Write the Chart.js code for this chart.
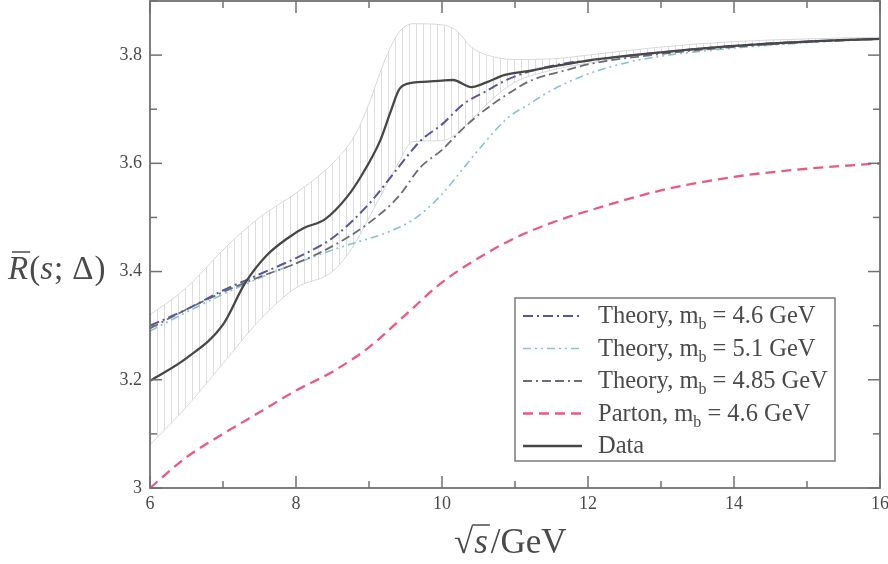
<!DOCTYPE html>
<html><head><meta charset="utf-8">
<script src="https://cdn.jsdelivr.net/npm/chart.js@4/dist/chart.umd.min.js"></script>
<style>html,body{margin:0;padding:0;background:#fff;}</style>
</head><body>
<canvas id="c" width="888" height="564"></canvas>
<script>
// ---- data ----
const dataX   = [6, 6.5, 7, 7.3, 7.6, 7.9, 8.1, 8.4, 8.7, 8.9, 9.15, 9.3, 9.42, 9.6, 9.8, 10, 10.15, 10.4, 10.6, 10.85, 11.2, 11.6, 12, 13, 14, 15, 16];
const dataY   = [3.198, 3.24, 3.302, 3.378, 3.43, 3.463, 3.48, 3.497, 3.538, 3.578, 3.641, 3.697, 3.738, 3.749, 3.751, 3.753, 3.754, 3.741, 3.749, 3.763, 3.771, 3.781, 3.79, 3.805, 3.817, 3.825, 3.83];

const th46X   = [6, 6.5, 7, 7.5, 8, 8.5, 9, 9.4, 9.7, 10, 10.3, 10.6, 10.9, 11.2, 11.7, 12, 13, 14, 15, 16];
const th46Y   = [3.30, 3.33, 3.365, 3.395, 3.425, 3.462, 3.525, 3.592, 3.641, 3.672, 3.71, 3.733, 3.755, 3.77, 3.785, 3.79, 3.805, 3.817, 3.825, 3.83];

const th51X   = [6, 6.5, 7, 7.5, 8, 8.5, 8.9, 9.25, 9.65, 10, 10.3, 10.6, 10.9, 11.2, 11.5, 12, 12.5, 13, 14, 15, 16];
const th51Y   = [3.29, 3.325, 3.358, 3.388, 3.415, 3.44, 3.457, 3.472, 3.50, 3.543, 3.592, 3.641, 3.684, 3.71, 3.735, 3.765, 3.785, 3.798, 3.813, 3.823, 3.83];

const th485X  = [6, 6.5, 7, 7.5, 8, 8.5, 9, 9.4, 9.7, 10, 10.3, 10.6, 10.9, 11.2, 11.7, 12, 13, 14, 15, 16];
const th485Y  = [3.295, 3.33, 3.362, 3.39, 3.415, 3.447, 3.49, 3.538, 3.592, 3.625, 3.666, 3.70, 3.728, 3.752, 3.772, 3.783, 3.802, 3.815, 3.824, 3.83];

const partonX = [6, 6.5, 7, 7.5, 8, 8.5, 9, 9.5, 10, 10.5, 11, 11.5, 12, 13, 14, 15, 16];
const partonY = [3.0, 3.057, 3.10, 3.14, 3.18, 3.215, 3.26, 3.32, 3.38, 3.425, 3.462, 3.49, 3.512, 3.55, 3.575, 3.59, 3.60];

const bandX   = [6, 6.5, 7, 7.5, 8, 8.5, 8.8, 9.0, 9.2, 9.4, 9.6, 10, 10.2, 10.4, 10.7, 11, 11.5, 12, 13, 14, 15, 16];
const bandHi  = [3.32, 3.37, 3.44, 3.50, 3.545, 3.60, 3.65, 3.71, 3.785, 3.84, 3.858, 3.856, 3.845, 3.815, 3.797, 3.792, 3.793, 3.80, 3.815, 3.825, 3.83, 3.833];
const bandLo  = [3.08, 3.15, 3.23, 3.31, 3.37, 3.40, 3.45, 3.50, 3.55, 3.60, 3.64, 3.642, 3.655, 3.68, 3.72, 3.75, 3.772, 3.785, 3.805, 3.817, 3.825, 3.83];

const xMajorTicks = [6, 8, 10, 12, 14, 16];
const xMinorTicks = [7, 9, 11, 13, 15];
const yMajorTicks = [3, 3.2, 3.4, 3.6, 3.8];
const yMinorTicks = [3.1, 3.3, 3.5, 3.7, 3.9];

const seriesNames = ['Theory, m_b = 4.6 GeV', 'Theory, m_b = 5.1 GeV', 'Theory, m_b = 4.85 GeV', 'Parton, m_b = 4.6 GeV', 'Data'];

// ---- helpers ----
const SERIF = '"Liberation Serif", "Times New Roman", serif';
const pts = (xs, ys) => xs.map((x, i) => ({x: x, y: ys[i]}));

function hatch() {
  const c = document.createElement('canvas');
  c.width = 7; c.height = 4;
  const g = c.getContext('2d');
  g.fillStyle = 'rgba(210,210,210,0.75)';
  g.fillRect(3, 0, 1, 4);
  return g.createPattern(c, 'repeat');
}

const common = {pointRadius: 0, fill: false, cubicInterpolationMode: 'monotone'};

const datasets = [
  Object.assign({label: seriesNames[4], data: pts(dataX, dataY), borderColor: '#474747', borderWidth: 2.3, order: 0}, common),
  Object.assign({label: seriesNames[0], data: pts(th46X, th46Y), borderColor: '#56569c', borderWidth: 2, borderDash: [10, 4, 2, 4], order: 1}, common),
  Object.assign({label: seriesNames[1], data: pts(th51X, th51Y), borderColor: '#86c3cb', borderWidth: 1.6, borderDash: [8, 4, 2, 4, 2, 4], order: 3}, common),
  Object.assign({label: seriesNames[2], data: pts(th485X, th485Y), borderColor: '#6c6c74', borderWidth: 1.8, borderDash: [9, 4, 2, 4, 9, 4], order: 2}, common),
  Object.assign({label: seriesNames[3], data: pts(partonX, partonY), borderColor: '#ea5a80', borderWidth: 2.3, borderDash: [10, 6], order: 4}, common),
  Object.assign({label: 'band-lo', data: pts(bandX, bandLo), borderColor: '#d8d8d8', borderWidth: 1, order: 9}, common),
  Object.assign({}, common, {label: 'band-hi', data: pts(bandX, bandHi), borderColor: '#d8d8d8', borderWidth: 1, order: 8, fill: 5, backgroundColor: hatch()})
];

// frame + inward ticks
const frameTicks = {
  id: 'frameTicks',
  afterDatasetsDraw(chart) {
    const {ctx, chartArea: a, scales: {x, y}} = chart;
    ctx.save();
    ctx.strokeStyle = '#707070';
    ctx.lineWidth = 1.8;
    ctx.strokeRect(a.left, a.top, a.right - a.left, a.bottom - a.top);
    ctx.lineWidth = 1.5;
    const seg = (x1, y1, x2, y2) => { ctx.beginPath(); ctx.moveTo(x1, y1); ctx.lineTo(x2, y2); ctx.stroke(); };
    const xt = (list, L) => list.forEach(v => { const p = x.getPixelForValue(v); seg(p, a.bottom, p, a.bottom - L); seg(p, a.top, p, a.top + L); });
    const yt = (list, L) => list.forEach(v => { const p = y.getPixelForValue(v); seg(a.left, p, a.left + L, p); seg(a.right, p, a.right - L, p); });
    xt(xMajorTicks, 12); xt(xMinorTicks, 7);
    yt(yMajorTicks, 12); yt(yMinorTicks, 7);
    ctx.restore();
  }
};

// legend and axis titles
const overlay = {
  id: 'overlay',
  afterDraw(chart) {
    const ctx = chart.ctx;
    ctx.save();
    // legend box
    const bx = 515, by = 298, bw = 320, bh = 163;
    ctx.fillStyle = '#fff';
    ctx.fillRect(bx, by, bw, bh);
    ctx.strokeStyle = '#7a7a7a';
    ctx.lineWidth = 1.5;
    ctx.strokeRect(bx, by, bw, bh);
    const order = [1, 2, 3, 4, 0];
    const LF = 24.5;
    order.forEach((di, row) => {
      const d = chart.data.datasets[di];
      const yy = 316 + row * 32.5;
      ctx.save();
      ctx.strokeStyle = d.borderColor;
      ctx.lineWidth = d.borderWidth;
      ctx.setLineDash(d.borderDash || []);
      ctx.beginPath(); ctx.moveTo(523, yy); ctx.lineTo(582, yy); ctx.stroke();
      ctx.restore();
      // text with subscript
      ctx.fillStyle = '#4a4a4a';
      ctx.textBaseline = 'alphabetic';
      const base = yy + 7;
      const parts = d.label.split('_b');
      let tx = 598;
      ctx.font = LF + 'px ' + SERIF;
      ctx.fillText(parts[0], tx, base);
      tx += ctx.measureText(parts[0]).width;
      if (parts.length > 1) {
        ctx.font = '16px ' + SERIF;
        ctx.fillText('b', tx, base + 6);
        tx += ctx.measureText('b').width;
        ctx.font = LF + 'px ' + SERIF;
        ctx.fillText(parts[1], tx, base);
      }
    });

    // y title: R̄(s; Δ)
    ctx.fillStyle = '#4a4a4a';
    ctx.strokeStyle = '#4a4a4a';
    let px = 8; const yb = 279;
    const FS = 33;
    const piece = (t, it) => {
      ctx.font = (it ? 'italic ' : '') + FS + 'px ' + SERIF;
      ctx.fillText(t, px, yb);
      const w = ctx.measureText(t).width;
      px += w;
      return w;
    };
    const rx = px;
    const rw = piece('R', true);
    ctx.lineWidth = 1.5;
    ctx.beginPath(); ctx.moveTo(rx + 4, yb - 27); ctx.lineTo(rx + rw + 2, yb - 27); ctx.stroke();
    px += 1;
    piece('(', false); piece('s', true); px += 1; piece(';', false); px += 9; piece('Δ', false); px += 1; piece(')', false);

    // x title: √s/GeV
    let qx = 454; const qb = 553;
    const FX = 35;
    ctx.font = FX + 'px ' + SERIF;
    ctx.fillText('√', qx, qb);
    const sw = ctx.measureText('√').width;
    qx += sw;
    ctx.font = 'italic ' + FX + 'px ' + SERIF;
    const ssw = ctx.measureText('s').width;
    ctx.lineWidth = 1.5;
    ctx.beginPath(); ctx.moveTo(qx - 1, qb - 28); ctx.lineTo(qx + ssw + 3, qb - 28); ctx.stroke();
    ctx.fillText('s', qx + 1, qb);
    qx += ssw + 4;
    ctx.font = FX + 'px ' + SERIF;
    ctx.fillText('/GeV', qx, qb);
    ctx.restore();
  }
};

new Chart(document.getElementById('c'), {
  type: 'line',
  data: {datasets: datasets},
  options: {
    responsive: false,
    animation: false,
    devicePixelRatio: 1,
    layout: {padding: {top: 1, right: 8, left: 0, bottom: 0}},
    plugins: {legend: {display: false}, tooltip: {enabled: false}},
    scales: {
      x: {
        type: 'linear', min: 6, max: 16,
        afterFit: s => { s.height = 76; s.paddingLeft = 0; s.paddingRight = 0; },
        afterBuildTicks: s => { s.ticks = xMajorTicks.map(v => ({value: v})); },
        grid: {display: false, drawTicks: false},
        border: {display: false},
        ticks: {font: {family: SERIF, size: 18}, color: '#4a4a4a', padding: 5, maxRotation: 0, autoSkip: false,
                callback: v => String(v)}
      },
      y: {
        type: 'linear', min: 3, max: 3.9,
        afterFit: s => { s.width = 150; s.paddingTop = 0; s.paddingBottom = 0; },
        afterBuildTicks: s => { s.ticks = yMajorTicks.map(v => ({value: v})); },
        grid: {display: false, drawTicks: false},
        border: {display: false},
        ticks: {font: {family: SERIF, size: 18}, color: '#4a4a4a', padding: 8, autoSkip: false,
                callback: v => (Math.abs(v - 3) < 1e-9 ? '3' : v.toFixed(1))}
      }
    }
  },
  plugins: [frameTicks, overlay]
});
</script>
</body></html>
